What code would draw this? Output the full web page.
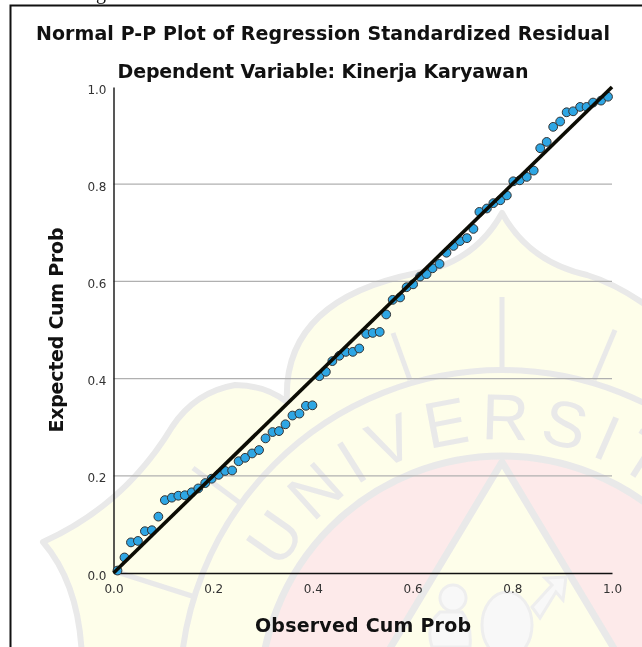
<!DOCTYPE html>
<html>
<head>
<meta charset="utf-8">
<script src="https://cdn.jsdelivr.net/npm/d3@7"></script>
<style>
  html, body { margin: 0; padding: 0; background: #fff; overflow: hidden; }
  text { font-family: "DejaVu Sans", sans-serif; }
  svg { filter: blur(0.35px); }
</style>
</head>
<body>
<div id="chart"></div>
<script>
const chartTitle = "Normal P-P Plot of Regression Standardized Residual";
const chartSubtitle = "Dependent Variable: Kinerja Karyawan";
const xLabel = "Observed Cum Prob";
const yLabel = "Expected Cum Prob";
const tickValues = [0, 0.2, 0.4, 0.6, 0.8, 1.0];
const gridValues = [0.2, 0.4, 0.6, 0.8];

const observed = [
  0.008, 0.022, 0.035, 0.049, 0.063, 0.077, 0.090, 0.103, 0.117, 0.130,
  0.143, 0.157, 0.170, 0.184, 0.197, 0.211, 0.224, 0.238, 0.251, 0.264,
  0.278, 0.292, 0.305, 0.319, 0.332, 0.345, 0.359, 0.373, 0.386, 0.399,
  0.413, 0.426, 0.439, 0.453, 0.466, 0.480, 0.493, 0.507, 0.520, 0.534,
  0.547, 0.560, 0.575, 0.588, 0.601, 0.615, 0.628, 0.640, 0.654, 0.668,
  0.682, 0.695, 0.709, 0.722, 0.734, 0.749, 0.762, 0.776, 0.789, 0.802,
  0.815, 0.829, 0.843, 0.856, 0.869, 0.882, 0.896, 0.909, 0.922, 0.936,
  0.949, 0.962, 0.978, 0.992,
];
const expected = [
  0.005, 0.032, 0.063, 0.066, 0.086, 0.088, 0.116, 0.150, 0.155, 0.159,
  0.160, 0.166, 0.174, 0.185, 0.194, 0.202, 0.210, 0.211, 0.230, 0.237,
  0.246, 0.253, 0.277, 0.290, 0.292, 0.306, 0.324, 0.328, 0.344, 0.345,
  0.405, 0.414, 0.436, 0.447, 0.455, 0.455, 0.462, 0.492, 0.494, 0.496,
  0.532, 0.562, 0.567, 0.588, 0.594, 0.610, 0.615, 0.627, 0.636, 0.659,
  0.673, 0.683, 0.689, 0.708, 0.743, 0.750, 0.761, 0.767, 0.777, 0.806,
  0.808, 0.815, 0.828, 0.874, 0.887, 0.918, 0.929, 0.948, 0.950, 0.959,
  0.959, 0.968, 0.972, 0.980,
];
const refLine = [0, 1];

const width = 642;
const height = 647;
const margin = { top: 87, right: 30, bottom: 74, left: 113.5 };

const svg = d3
  .select("#chart")
  .append("svg")
  .attr("width", width)
  .attr("height", height)
  .style("display", "block");

// Watermark behind the plot
const band = "#e9e9e9";
const yellow = "#fefeea";
const pink = "#fdeaea";
const mark = svg.append("g");

mark
  .append("path")
  .attr(
    "d",
    "M82,660 Q80,585 43,542 Q125,505 172,427 Q195,392 235,385 Q265,385 287,402 " +
      "Q282,300 417,273 Q475,262 502,213 Q529,262 587,275 Q620,285 660,315 L700,660 Z",
  )
  .attr("fill", yellow)
  .attr("stroke", band)
  .attr("stroke-width", 6)
  .attr("stroke-linejoin", "round");

mark
  .append("circle")
  .attr("cx", 502)
  .attr("cy", 692)
  .attr("r", 322)
  .attr("fill", "none")
  .attr("stroke", band)
  .attr("stroke-width", 6);

mark
  .append("circle")
  .attr("cx", 502)
  .attr("cy", 698)
  .attr("r", 242)
  .attr("fill", pink)
  .attr("stroke", band)
  .attr("stroke-width", 7);

mark
  .append("path")
  .attr("d", "M502,462 L645,700 L359,700 Z")
  .attr("fill", yellow)
  .attr("stroke", band)
  .attr("stroke-width", 7)
  .attr("stroke-linejoin", "round");

// rays and cross bars
[
  [502, 297, 502, 367],
  [393, 333, 410, 380],
  [615, 330, 594, 380],
  [193, 468, 240, 503],
  [117, 572, 195, 597],
].forEach((d) => {
  mark
    .append("line")
    .attr("x1", d[0])
    .attr("y1", d[1])
    .attr("x2", d[2])
    .attr("y2", d[3])
    .attr("stroke", band)
    .attr("stroke-width", 5);
});

// figure at the foot of the triangle
const figureFill = "#f8f8f8";
const figureStroke = "#eeeeee";
mark
  .append("circle")
  .attr("cx", 453)
  .attr("cy", 598)
  .attr("r", 13)
  .attr("fill", figureFill)
  .attr("stroke", figureStroke)
  .attr("stroke-width", 3);
mark
  .append("path")
  .attr("d", "M440,612 Q425,625 432,647 L470,647 Q472,625 462,612 Z")
  .attr("fill", figureFill)
  .attr("stroke", figureStroke)
  .attr("stroke-width", 3);
mark
  .append("ellipse")
  .attr("cx", 507)
  .attr("cy", 625)
  .attr("rx", 25)
  .attr("ry", 33)
  .attr("fill", figureFill)
  .attr("stroke", figureStroke)
  .attr("stroke-width", 3);
mark
  .append("path")
  .attr("d", "M532,607 L552,585 L545,578 L566,577 L563,600 L556,592 L540,618 Z")
  .attr("fill", figureFill)
  .attr("stroke", figureStroke)
  .attr("stroke-width", 3);

// lettering along the ring
mark
  .append("defs")
  .append("path")
  .attr("id", "ring-text")
  .attr("d", "M265,606 A252,252 0 0 1 739,606");
mark
  .append("text")
  .style("font-family", "'Liberation Sans', sans-serif")
  .attr("font-size", 65)
  .attr("letter-spacing", 10)
  .attr("fill", band)
  .append("textPath")
  .attr("href", "#ring-text")
  .attr("startOffset", 39)
  .text("UNIVERSIT");

// Top border of the page frame and the scrap of text above it
svg
  .append("text")
  .attr("x", 96)
  .attr("y", -1)
  .style("font-family", "'Liberation Serif', serif")
  .attr("font-size", 20)
  .attr("fill", "#111")
  .text("g");
svg
  .append("path")
  .attr("d", `M10.5,${height} V5.5 H${width}`)
  .attr("fill", "none")
  .attr("stroke", "#111")
  .attr("stroke-width", 2);

// Scales
const x = d3
  .scaleLinear()
  .domain([0, 1])
  .range([margin.left, width - margin.right]);
const y = d3
  .scaleLinear()
  .domain([0, 1])
  .range([height - margin.bottom, margin.top]);

// Grid lines
svg
  .selectAll(".grid")
  .data(gridValues)
  .enter()
  .append("line")
  .attr("class", "grid")
  .attr("x1", x(0))
  .attr("x2", x(1))
  .attr("y1", (d) => y(d))
  .attr("y2", (d) => y(d))
  .attr("stroke", "#b0b0b0")
  .attr("stroke-width", 1.2);

// Axes
const xAxis = svg
  .append("g")
  .attr("transform", `translate(0,${y(0)})`)
  .call(
    d3
      .axisBottom(x)
      .tickValues(tickValues)
      .tickSize(0)
      .tickPadding(11)
      .tickFormat(d3.format(".1f")),
  );
const yAxis = svg
  .append("g")
  .attr("transform", `translate(${x(0)},0)`)
  .call(
    d3
      .axisLeft(y)
      .tickValues(tickValues)
      .tickSize(0)
      .tickPadding(7)
      .tickFormat(d3.format(".1f")),
  );
[xAxis, yAxis].forEach((axis) => {
  axis.select(".domain").attr("stroke", "#111").attr("stroke-width", 1.4);
  axis
    .selectAll("text")
    .attr("fill", "#333")
    .style("font-size", "12px")
    .style("font-family", "'DejaVu Sans', sans-serif");
});
yAxis.selectAll("text").attr("dy", "0.5em");

// Points, then the reference line on top
svg
  .selectAll(".point")
  .data(observed)
  .enter()
  .append("circle")
  .attr("class", "point")
  .attr("cx", (d) => x(d))
  .attr("cy", (d, i) => y(expected[i]))
  .attr("r", 4.4)
  .attr("fill", "#2ea6e4")
  .attr("stroke", "#333")
  .attr("stroke-width", 1);

svg
  .append("line")
  .attr("x1", x(refLine[0]))
  .attr("y1", y(refLine[0]))
  .attr("x2", x(refLine[1]))
  .attr("y2", y(refLine[1]))
  .attr("stroke", "#0c0c04")
  .attr("stroke-width", 3.6);

// Titles
const titleSize = 19;
svg
  .append("text")
  .attr("x", 323)
  .attr("y", 40)
  .attr("text-anchor", "middle")
  .attr("font-weight", "bold")
  .attr("font-size", titleSize)
  .attr("fill", "#111")
  .attr("textLength", 574)
  .text(chartTitle);
svg
  .append("text")
  .attr("x", 323)
  .attr("y", 78)
  .attr("text-anchor", "middle")
  .attr("font-weight", "bold")
  .attr("font-size", titleSize)
  .attr("fill", "#111")
  .attr("textLength", 411)
  .text(chartSubtitle);
svg
  .append("text")
  .attr("x", 363)
  .attr("y", 632)
  .attr("text-anchor", "middle")
  .attr("font-weight", "bold")
  .attr("font-size", titleSize)
  .attr("fill", "#111")
  .attr("textLength", 216)
  .text(xLabel);
svg
  .append("text")
  .attr("transform", "translate(63,330) rotate(-90)")
  .attr("text-anchor", "middle")
  .attr("font-weight", "bold")
  .attr("font-size", titleSize)
  .attr("fill", "#111")
  .attr("textLength", 205)
  .text(yLabel);
</script>
</body>
</html>
